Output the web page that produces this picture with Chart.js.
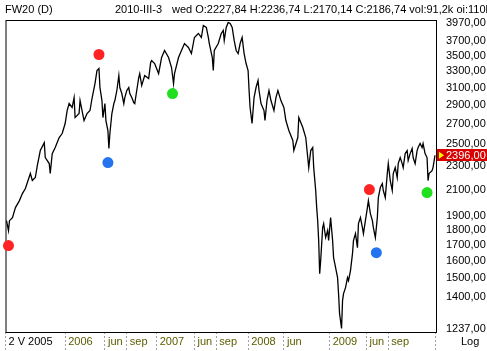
<!DOCTYPE html>
<html><head><meta charset="utf-8">
<script src="https://cdn.jsdelivr.net/npm/chart.js@4"></script>
<style>html,body{margin:0;padding:0;background:#fff;overflow:hidden}</style>
</head><body><canvas id="c" width="487" height="351"></canvas>
<script>
// bar index (sampled trading days) and closing values
const days = [0,2,3,6,9,13,16,19,24,26,29,31,34,38,39,43,44,46,49,53,56,59,61,63,66,68,69,73,74,76,78,81,84,86,89,91,93,94,96,97,99,100,102,103,104,106,108,109,111,113,114,116,118,119,121,123,124,126,128,129,131,133,134,136,139,143,145,146,149,153,156,159,163,166,168,169,173,176,179,183,186,189,193,196,198,201,203,204,207,208,209,213,216,218,219,221,223,225,227,229,231,233,235,237,239,241,243,244,245,247,249,251,253,254,256,259,260,262,264,266,269,271,273,276,279,281,284,288,289,293,294,298,301,304,306,308,309,311,312,313,314,315,316,318,319,321,323,324,326,328,329,331,333,334,335,337,338,339,341,343,344,346,348,349,351,353,354,356,358,359,361,363,364,366,368,369,371,373,374,376,378,379,381,383,384,386,388,389,391,393,394,396,398,399,401,403,404,406,408,409,411,413,414,416,418,419,421,423,424,425,428,429,431];
const closes = [1868,1799,1868,1890,1963,2016,2071,2111,2235,2176,2201,2304,2439,2514,2375,2321,2235,2411,2467,2563,2602,2703,2840,2917,2873,2984,2765,2808,2950,2840,2734,2808,2840,2973,3147,3307,3332,3100,2950,2765,2917,2734,2632,2458,2602,2808,2917,2950,3065,3245,3100,3030,2917,2984,3065,3100,3030,2984,2928,2917,3065,3220,3269,3124,3245,3208,3409,3435,3396,3269,3475,3569,3475,3345,3147,3269,3475,3569,3665,3610,3528,3750,3808,3750,3925,3896,3750,3665,3475,3307,3569,3665,3808,3852,3708,3896,3970,3955,3896,3708,3569,3528,3665,3750,3528,3396,3307,3065,2873,2703,2984,3100,3184,3065,2917,2840,2734,2950,3065,2950,2840,2984,3065,2950,2873,2734,2632,2534,2439,2563,2765,2662,2563,2286,2439,2467,2286,2095,1963,1868,1732,1527,1604,1819,1847,1752,1799,1732,1890,1732,1623,1562,1504,1415,1312,1240,1378,1415,1448,1504,1487,1545,1648,1732,1778,1686,1847,1890,1819,1778,1868,1963,2016,1919,1868,1819,1752,1890,2040,2119,2151,2095,2040,2235,2321,2176,2095,2235,2286,2201,2321,2375,2321,2286,2411,2439,2348,2411,2458,2375,2321,2439,2467,2505,2467,2505,2411,2375,2176,2235,2260,2286,2396];
const yTickValues = [3970,3700,3500,3300,3100,2900,2700,2500,2300,2100,1900,1800,1700,1600,1500,1400,1237];
const xTickDays = [-1,59,99,121,151,189,211,243,279,325,362,384,431];
const xTickLabels = ['2 V 2005','2006','jun','sep','2007','jun','sep','2008','jun','2009','jun','sep',''];
const markerDays = [2,93,102,167,338,365,372,423];
const markerValues = [1699,3515,2330,3030,1183,2103,1654,2079];
const markerColors = ['#ff2424','#ff2424','#2374ee','#1fdf1f','#ff2424','#ff2424','#2374ee','#1fdf1f'];
const lastValue = 2396;
const titleLeft = 'FW20 (D)';
const titleDate = '2010-III-3';
const titleQuote = 'wed O:2227,84 H:2236,74 L:2170,14 C:2186,74 vol:91,2k oi:110l';
const fmt = v => Number(v).toFixed(2).replace('.', ',');

Chart.defaults.font.family = '"Liberation Sans", Arial, sans-serif';
Chart.defaults.font.size = 11;
Chart.defaults.color = '#000';

const framePlugin = {
  id: 'frame',
  beforeDatasetsDraw(chart) {
    const {ctx, chartArea: a} = chart;
    ctx.save();
    ctx.strokeStyle = '#000'; ctx.lineWidth = 1;
    ctx.strokeRect(a.left + 0.5, a.top + 0.5, a.right - a.left, a.bottom - a.top);
    ctx.restore();
  },
  afterDraw(chart) {
    const {ctx} = chart;
    const y = chart.scales.y.getPixelForValue(lastValue);
    ctx.save();
    ctx.font = '11px "Liberation Sans", Arial, sans-serif';
    ctx.fillStyle = '#000';
    ctx.textBaseline = 'alphabetic';
    ctx.textAlign = 'left';
    ctx.fillText(titleLeft, 5, 13);
    const qx = 488 - ctx.measureText(titleQuote).width;
    ctx.fillText(titleQuote, qx, 13);
    ctx.fillText(titleDate, qx - 10 - ctx.measureText(titleDate).width, 13);
    ctx.fillText('Log', 461, 345);
    // last value marker
    ctx.fillStyle = '#d80000';
    ctx.fillRect(437, Math.round(y) - 6, 50, 12);
    ctx.fillStyle = '#ffff00';
    ctx.beginPath();
    ctx.moveTo(439, y - 3.5); ctx.lineTo(444, y); ctx.lineTo(439, y + 3.5); ctx.closePath(); ctx.fill();
    ctx.fillStyle = '#fff';
    ctx.textBaseline = 'middle';
    ctx.fillText(fmt(lastValue), 446, Math.round(y) + 0.5);
    ctx.restore();
  }
};

new Chart(document.getElementById('c'), {
  type: 'line',
  data: {
    datasets: [
      {
        data: days.map((d, i) => ({x: d, y: closes[i]})),
        borderColor: '#000', borderWidth: 1.3, pointRadius: 0, tension: 0, fill: false
      },
      {
        type: 'scatter',
        data: markerDays.map((d, i) => ({x: d, y: markerValues[i]})),
        pointRadius: 5.5, pointBorderWidth: 0,
        pointBackgroundColor: markerColors, clip: false
      }
    ]
  },
  plugins: [framePlugin],
  options: {
    responsive: false, animation: false, devicePixelRatio: 1,
    layout: {padding: {left: 3, top: 20, right: 0, bottom: 0}},
    plugins: {legend: {display: false}, tooltip: {enabled: false}},
    scales: {
      x: {
        type: 'linear', min: -1, max: 432,
        afterFit(s) { s.height = 19; },
        afterBuildTicks(s) { s.ticks = xTickDays.map(v => ({value: v})); },
        border: {display: false},
        grid: {drawOnChartArea: false, drawTicks: true, tickLength: 19, tickBorderDash: [2, 2], tickColor: '#a0a0a0', tickWidth: 1},
        ticks: {
          autoSkip: false, maxRotation: 0, align: 'start', padding: -16,
          color: ctx => ctx.index === 0 ? '#000' : '#5c5c00',
          callback: (v, i) => ' ' + xTickLabels[i]
        }
      },
      y: {
        type: 'logarithmic', position: 'right', min: 1223, max: 4008,
        afterFit(s) { s.width = 51; },
        afterBuildTicks(s) { s.ticks = yTickValues.map(v => ({value: v})); },
        border: {display: false},
        grid: {display: false, drawTicks: false},
        ticks: {padding: 10, autoSkip: false, callback: v => fmt(v)}
      }
    }
  }
});
</script></body></html>
